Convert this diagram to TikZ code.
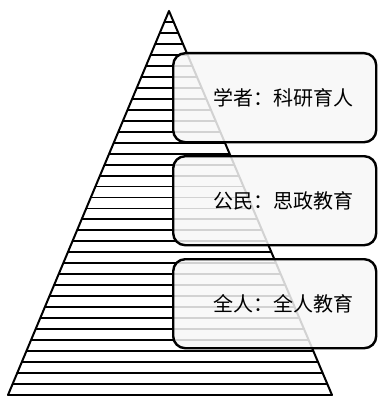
\documentclass[tikz,border=0pt]{standalone}
\usepackage{fontspec}
\newfontfamily\cjk{Noto Sans CJK SC}
\usetikzlibrary{calc}
\usetikzlibrary{positioning}

\begin{document}
\begin{tikzpicture}[x=1pt,y=-1pt,
    level/.style={draw,line width=2.4pt,rounded corners=12pt,fill=black!3,fill opacity=0.85,
      text opacity=1,minimum width=203pt,minimum height=89pt,anchor=north west,
      font=\cjk\fontsize{20}{24}\selectfont}]

  \useasboundingbox (0,0) rectangle (378,396);

  \coordinate (apex)  at (169,11);
  \coordinate (left)  at (8,395);
  \coordinate (right) at (332,395);

  % stripes of the pyramid
  \begin{scope}
    \clip (apex) -- (left) -- (right) -- cycle;
    \foreach \i in {1,...,35} {
      \path [draw,line width=1.9pt] (0,{11+\i*10.97}) -- (378,{11+\i*10.97});
    }
  \end{scope}
  \path [draw,line width=2pt,line join=round] (apex) -- (left) -- (right) -- cycle;

  \node [level] (scholar) at (172,52)  {\hspace*{18pt}学者：科研育人};
  \node [level] (citizen) at (172,155) {\hspace*{18pt}公民：思政教育};
  \node [level] (person)  at (172,258) {\hspace*{18pt}全人：全人教育};

\end{tikzpicture}
\end{document}
